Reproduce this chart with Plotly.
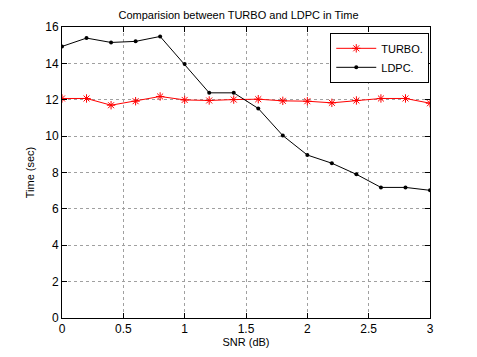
import plotly.graph_objects as go

snr = [0, 0.2, 0.4, 0.6, 0.8, 1.0, 1.2, 1.4, 1.6, 1.8, 2.0, 2.2, 2.4, 2.6, 2.8, 3.0]
turbo = [12.07, 12.07, 11.70, 11.92, 12.18, 11.99, 11.96, 12.01, 12.03, 11.94, 11.92, 11.83, 11.96, 12.07, 12.07, 11.81]
ldpc = [14.93, 15.39, 15.15, 15.21, 15.48, 13.96, 12.38, 12.38, 11.52, 10.03, 8.96, 8.51, 7.90, 7.18, 7.18, 7.02]
x_ticks = [0, 0.5, 1, 1.5, 2, 2.5, 3]
x_tick_labels = ["0", "0.5", "1", "1.5", "2", "2.5", "3"]
y_ticks = [0, 2, 4, 6, 8, 10, 12, 14, 16]

font = "Liberation Sans, Arial, sans-serif"

fig = go.Figure()
fig.add_trace(go.Scatter(
    x=snr, y=turbo, name="TURBO.", mode="lines+markers",
    line=dict(color="#ff0000", width=1),
    marker=dict(symbol="asterisk-open", size=7, color="#ff0000",
                line=dict(color="#ff0000", width=1)),
))
fig.add_trace(go.Scatter(
    x=snr, y=ldpc, name="LDPC.", mode="lines+markers",
    line=dict(color="#000000", width=1),
    marker=dict(symbol="circle", size=4, color="#000000"),
))

axis_common = dict(
    showline=True, linecolor="black", linewidth=1, mirror="ticks",
    ticks="inside", ticklen=5, tickcolor="black",
    showgrid=True, gridcolor="#a0a0a0", griddash="dot", gridwidth=1,
    zeroline=False, automargin=False,
    tickfont=dict(family=font, size=12, color="black"),
)

fig.update_layout(
    width=477, height=357,
    margin=dict(l=62, r=47, t=27, b=39),
    paper_bgcolor="white", plot_bgcolor="white",
    title=dict(text="Comparision between TURBO and LDPC in Time",
               x=0.5, xanchor="center", y=0.958, yanchor="middle",
               font=dict(family=font, size=11, color="black")),
    xaxis=dict(range=[0, 3], tickvals=x_ticks, ticktext=x_tick_labels,
               title=dict(text="SNR (dB)", standoff=2,
                          font=dict(family=font, size=11, color="black")),
               **axis_common),
    yaxis=dict(range=[0, 16], tickvals=y_ticks,
               title=dict(text="Time (sec)", standoff=8,
                          font=dict(family=font, size=11, color="black")),
               **axis_common),
    legend=dict(x=0.998, y=0.98, xanchor="right", yanchor="top",
                bgcolor="white", bordercolor="black", borderwidth=1,
                font=dict(family=font, size=11, color="black"),
                tracegroupgap=0, itemwidth=40),
    showlegend=True,
)

fig.write_html("out.html", config={"displayModeBar": False},
               post_script="document.body.style.margin='0px';")
